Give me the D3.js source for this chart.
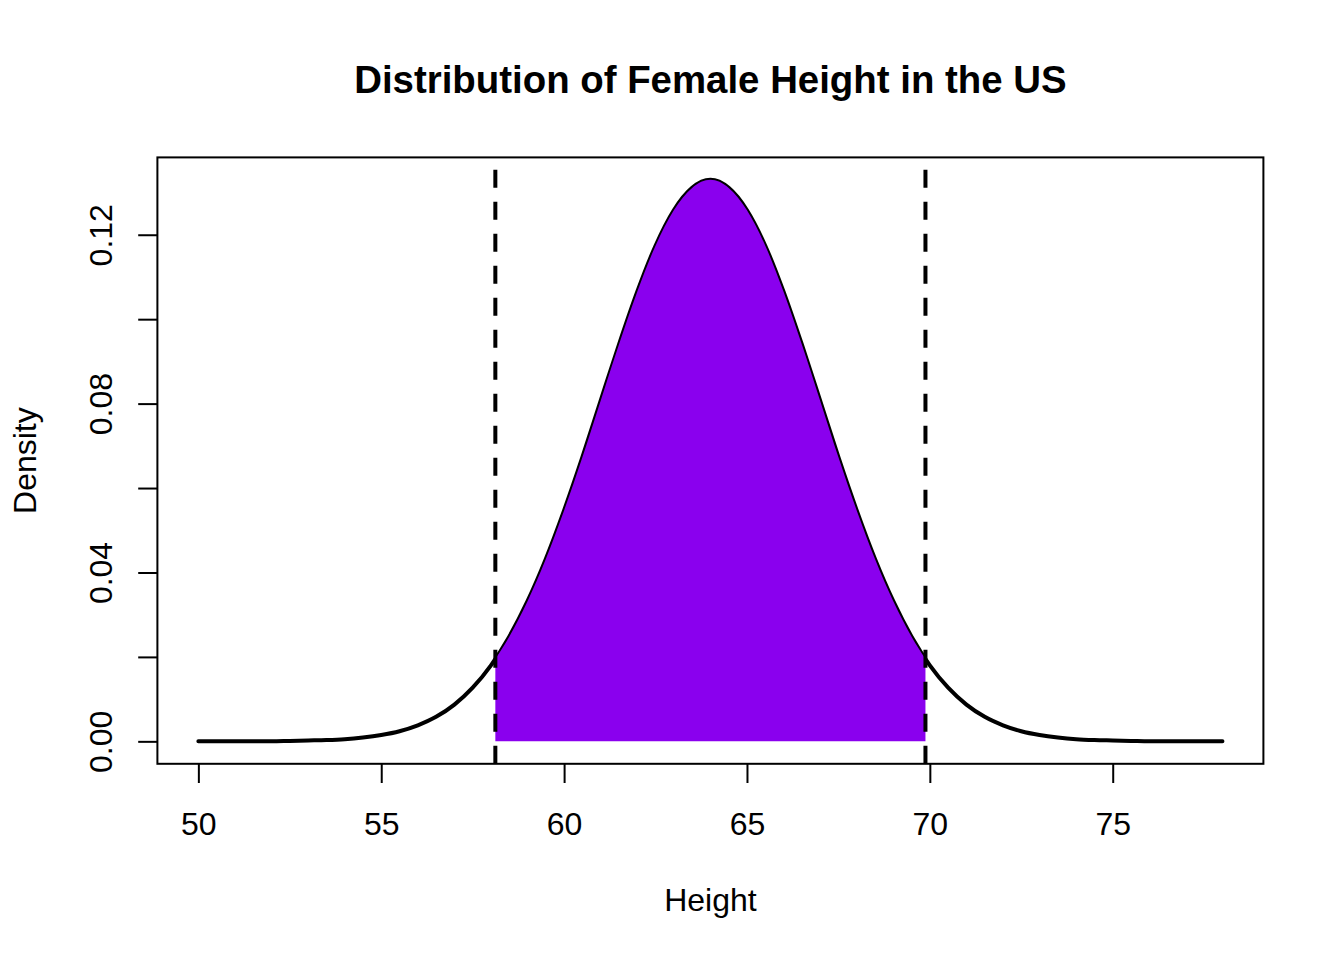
<!DOCTYPE html>
<html>
<head>
<meta charset="utf-8">
<script src="https://cdn.jsdelivr.net/npm/d3@7"></script>
<style>
  body { margin: 0; background: #fff; }
  svg text { font-family: "Liberation Sans", Arial, Helvetica, sans-serif; fill: #000; }
</style>
</head>
<body>
<svg id="chart" width="1344" height="960"></svg>
<script>
// Height (inches)
const heightX = [
  50, 50.5, 51, 51.5, 52, 52.5, 53, 53.5, 54, 54.5, 55, 55.5, 56, 56.5, 57, 57.5,
  58, 58.5, 59, 59.5, 60, 60.5, 61, 61.5, 62, 62.5, 63, 63.5, 64,
  64.5, 65, 65.5, 66, 66.5, 67, 67.5, 68, 68.5, 69, 69.5, 70, 70.5,
  71, 71.5, 72, 72.5, 73, 73.5, 74, 74.5, 75, 75.5, 76, 76.5, 77, 77.5, 78
]
// Density at each height
const densityY = [
  0.0000, 0.0000, 0.0000, 0.0000, 0.0000, 0.0001, 0.0002, 0.0003, 0.0005, 0.0009, 0.0015, 0.0024, 0.0038, 0.0058, 0.0087, 0.0127,
  0.0180, 0.0248, 0.0332, 0.0432, 0.0547, 0.0673, 0.0807, 0.0940, 0.1065, 0.1174, 0.1258, 0.1311, 0.1330,
  0.1311, 0.1258, 0.1174, 0.1065, 0.0940, 0.0807, 0.0673, 0.0547, 0.0432, 0.0332, 0.0248, 0.0180, 0.0127,
  0.0087, 0.0058, 0.0038, 0.0024, 0.0015, 0.0009, 0.0005, 0.0003, 0.0002, 0.0001, 0.0000, 0.0000, 0.0000, 0.0000, 0.0000
]
// shaded band and dashed cut-offs
const cutOffs = [58.12, 69.88]
const cutOffDensity = [0.0195, 0.0195]

const xTicks = [50, 55, 60, 65, 70, 75]
const yTicks = [0, 0.02, 0.04, 0.06, 0.08, 0.10, 0.12]
const yLabelled = [0, 0.04, 0.08, 0.12]

const svg = d3.select('#chart')
const margin = { top: 157.4, right: 80.6, bottom: 196.2, left: 157.4 }
const width = 1344 - margin.left - margin.right
const height = 960 - margin.top - margin.bottom

// R style: 4% padding on each side
const xExt = d3.extent(heightX), yExt = [0, d3.max(densityY)]
const xPad = (xExt[1] - xExt[0]) * 0.04, yPad = (yExt[1] - yExt[0]) * 0.04

const x = d3.scaleLinear()
  .domain([xExt[0] - xPad, xExt[1] + xPad])
  .range([0, width])
const y = d3.scaleLinear()
  .domain([yExt[0] - yPad, yExt[1] + yPad])
  .range([height, 0])

const g = svg.append('g')
  .attr('transform', `translate(${margin.left},${margin.top})`)

const points = heightX.map((h, i) => [h, densityY[i]])

// density curve
const line = d3.line()
  .x(d => x(d[0]))
  .y(d => y(d[1]))
  .curve(d3.curveMonotoneX)

g.append('path')
  .datum(points)
  .attr('d', line)
  .attr('fill', 'none')
  .attr('stroke', '#000')
  .attr('stroke-width', 4)
  .attr('stroke-linecap', 'round')
  .attr('stroke-linejoin', 'round')

// box
g.append('rect')
  .attr('width', width)
  .attr('height', height)
  .attr('fill', 'none')
  .attr('stroke', '#000')
  .attr('stroke-width', 2)

// x axis
const xAxis = g.append('g')
  .attr('transform', `translate(0,${height})`)
  .call(d3.axisBottom(x).tickValues(xTicks).tickSize(19.2).tickSizeOuter(0).tickPadding(29.5).tickFormat(d3.format('d')))
xAxis.select('.domain').remove()
xAxis.selectAll('line').attr('stroke-width', 2)
xAxis.selectAll('text').style('font-size', '32px').attr('fill', '#000')

// y axis, labels rotated like R's las = 0
const yAxis = g.append('g')
  .call(d3.axisLeft(y).tickValues(yTicks).tickSize(19.2).tickSizeOuter(0)
    .tickFormat(d => yLabelled.some(v => Math.abs(v - d) < 1e-9) ? d3.format('.2f')(d) : ''))
yAxis.select('.domain').remove()
yAxis.selectAll('line').attr('stroke-width', 2)
yAxis.selectAll('text')
  .style('font-size', '32px')
  .attr('fill', '#000')
  .attr('transform', 'rotate(-90)')
  .attr('x', 0)
  .attr('y', -45.4)
  .attr('dy', 0)
  .attr('text-anchor', 'middle')

// shaded area between the cut-offs, drawn over the curve
const inside = points.filter(d => d[0] > cutOffs[0] && d[0] < cutOffs[1])
const band = [[cutOffs[0], cutOffDensity[0]], ...inside, [cutOffs[1], cutOffDensity[1]]]

const area = d3.area()
  .x(d => x(d[0]))
  .y0(y(0))
  .y1(d => y(d[1]))
  .curve(d3.curveMonotoneX)

g.append('path')
  .datum(band)
  .attr('d', area)
  .attr('fill', '#8a00ee')
  .attr('stroke', 'none')

// dashed vertical lines
g.selectAll('.cut')
  .data(cutOffs)
  .enter()
  .append('line')
    .attr('class', 'cut')
    .attr('x1', d => x(d))
    .attr('x2', d => x(d))
    .attr('y1', height)
    .attr('y2', 0)
    .attr('stroke', '#000')
    .attr('stroke-width', 4)
    .attr('stroke-dasharray', '18 14')

// titles
svg.append('text')
  .attr('x', margin.left + width / 2)
  .attr('y', 93)
  .attr('text-anchor', 'middle')
  .style('font-size', '38.4px')
  .style('font-weight', 'bold')
  .text('Distribution of Female Height in the US')

svg.append('text')
  .attr('x', margin.left + width / 2)
  .attr('y', 911)
  .attr('text-anchor', 'middle')
  .style('font-size', '32px')
  .text('Height')

svg.append('text')
  .attr('transform', `translate(36,${margin.top + height / 2}) rotate(-90)`)
  .attr('text-anchor', 'middle')
  .style('font-size', '32px')
  .text('Density')
</script>
</body>
</html>
